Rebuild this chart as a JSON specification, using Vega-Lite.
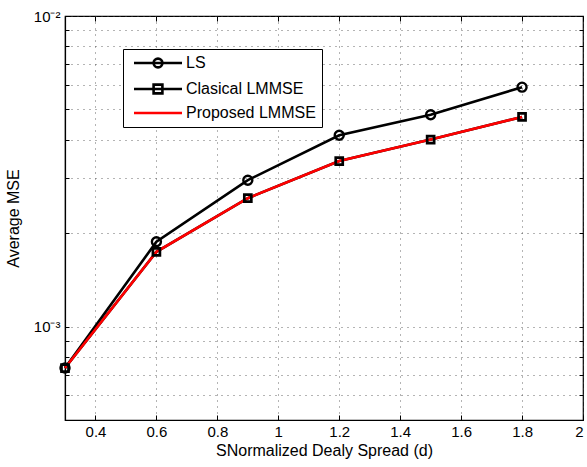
{
  "$schema": "https://vega.github.io/schema/vega-lite/v6.json",
  "width": 518,
  "height": 404,
  "autosize": {"type": "none"},
  "padding": {"left": 65, "top": 16, "right": 4, "bottom": 47},
  "background": "white",
  "view": {"stroke": "black", "strokeWidth": 1.2},
  "config": {
    "font": "Liberation Sans",
    "axis": {
      "domainColor": "black",
      "domainWidth": 1.2,
      "tickColor": "black",
      "labelColor": "black",
      "titleColor": "black",
      "labelFont": "Liberation Sans",
      "titleFont": "Liberation Sans",
      "labelFontSize": 15,
      "titleFontSize": 16,
      "titleFontWeight": "normal",
      "gridColor": "#444",
      "gridDash": [1, 5],
      "gridWidth": 1,
      "gridOpacity": 0.8
    }
  },
  "data": {
    "values": [
      {"d": 0.3, "mse": 0.000735, "series": "LS"},
      {"d": 0.6, "mse": 0.001875, "series": "LS"},
      {"d": 0.9, "mse": 0.00296, "series": "LS"},
      {"d": 1.2, "mse": 0.00413, "series": "LS"},
      {"d": 1.5, "mse": 0.00481, "series": "LS"},
      {"d": 1.8, "mse": 0.0059, "series": "LS"},
      {"d": 0.3, "mse": 0.000735, "series": "Clasical LMMSE"},
      {"d": 0.6, "mse": 0.00174, "series": "Clasical LMMSE"},
      {"d": 0.9, "mse": 0.00259, "series": "Clasical LMMSE"},
      {"d": 1.2, "mse": 0.00341, "series": "Clasical LMMSE"},
      {"d": 1.5, "mse": 0.004, "series": "Clasical LMMSE"},
      {"d": 1.8, "mse": 0.00473, "series": "Clasical LMMSE"},
      {"d": 0.3, "mse": 0.000735, "series": "Proposed LMMSE"},
      {"d": 0.6, "mse": 0.00174, "series": "Proposed LMMSE"},
      {"d": 0.9, "mse": 0.00259, "series": "Proposed LMMSE"},
      {"d": 1.2, "mse": 0.00341, "series": "Proposed LMMSE"},
      {"d": 1.5, "mse": 0.004, "series": "Proposed LMMSE"},
      {"d": 1.8, "mse": 0.00473, "series": "Proposed LMMSE"}
    ]
  },
  "resolve": {"axis": {"x": "independent", "y": "independent"}},
  "layer": [
    {
      "mark": {"type": "line", "strokeWidth": 2.6},
      "encoding": {
        "x": {
          "field": "d",
          "type": "quantitative",
          "scale": {"domain": [0.3, 2], "nice": false, "zero": false},
          "axis": {
            "orient": "bottom",
            "values": [0.4, 0.6, 0.8, 1, 1.2, 1.4, 1.6, 1.8, 2],
            "format": "~g",
            "grid": true,
            "tickSize": -5,
            "labelPadding": 9,
            "title": "SNormalized Dealy Spread (d)",
            "titlePadding": 3
          }
        },
        "y": {
          "field": "mse",
          "type": "quantitative",
          "scale": {"type": "log", "domain": [0.0005, 0.01], "nice": false},
          "axis": {
            "orient": "left",
            "values": [0.0006, 0.0007, 0.0008, 0.0009, 0.001, 0.002, 0.003, 0.004, 0.005, 0.006, 0.007, 0.008, 0.009, 0.01],
            "labelExpr": "datum.value == 0.001 ? '10⁻³' : datum.value == 0.01 ? '10⁻²' : ''",
            "grid": true,
            "tickSize": -4,
            "labelPadding": 9,
            "title": "Average MSE",
            "titlePadding": 12
          }
        },
        "color": {
          "field": "series",
          "type": "nominal",
          "sort": ["LS", "Clasical LMMSE", "Proposed LMMSE"],
          "scale": {"domain": ["LS", "Clasical LMMSE", "Proposed LMMSE"], "range": ["black", "black", "red"]},
          "legend": {
            "title": null,
            "orient": "none",
            "legendX": 58,
            "legendY": 33,
            "strokeColor": "black",
            "fillColor": "white",
            "padding": 6,
            "labelFont": "Liberation Sans",
            "labelFontSize": 16,
            "labelColor": "black",
            "labelOffset": 41,
            "rowPadding": 6,
            "symbolSize": 64,
            "symbolStrokeWidth": 2.6,
            "encode": {
              "symbols": {
                "update": {
                  "shape": {"signal": "datum.value === 'LS' ? 'M-0.75,0H11.25M6.35,0A1.1,1.1,0,1,1,4.15,0A1.1,1.1,0,1,1,6.35,0' : datum.value === 'Clasical LMMSE' ? 'M-0.75,0H11.25M4.15,-1.1H6.35V1.1H4.15Z' : 'M-0.75,0H11.25'"},
                  "fill": {"value": "transparent"}
                }
              }
            }
          }
        }
      }
    },
    {
      "transform": [{"filter": "datum.series === 'LS'"}],
      "mark": {"type": "point", "shape": "circle", "size": 81, "strokeWidth": 2.4, "color": "black", "filled": false, "opacity": 1},
      "encoding": {
        "x": {
          "field": "d",
          "type": "quantitative",
          "axis": {"orient": "top", "values": [0.4, 0.6, 0.8, 1, 1.2, 1.4, 1.6, 1.8, 2], "labels": false, "domain": false, "grid": false, "tickSize": -5, "title": null}
        },
        "y": {
          "field": "mse",
          "type": "quantitative",
          "axis": {"orient": "right", "values": [0.0006, 0.0007, 0.0008, 0.0009, 0.001, 0.002, 0.003, 0.004, 0.005, 0.006, 0.007, 0.008, 0.009, 0.01], "labels": false, "domain": false, "grid": false, "tickSize": -4, "title": null}
        }
      }
    },
    {
      "transform": [{"filter": "datum.series === 'Clasical LMMSE'"}],
      "mark": {"type": "point", "shape": "square", "size": 49, "strokeWidth": 2.7, "color": "black", "filled": false, "opacity": 1},
      "encoding": {
        "x": {"field": "d", "type": "quantitative", "axis": null},
        "y": {"field": "mse", "type": "quantitative", "axis": null}
      }
    }
  ]
}
